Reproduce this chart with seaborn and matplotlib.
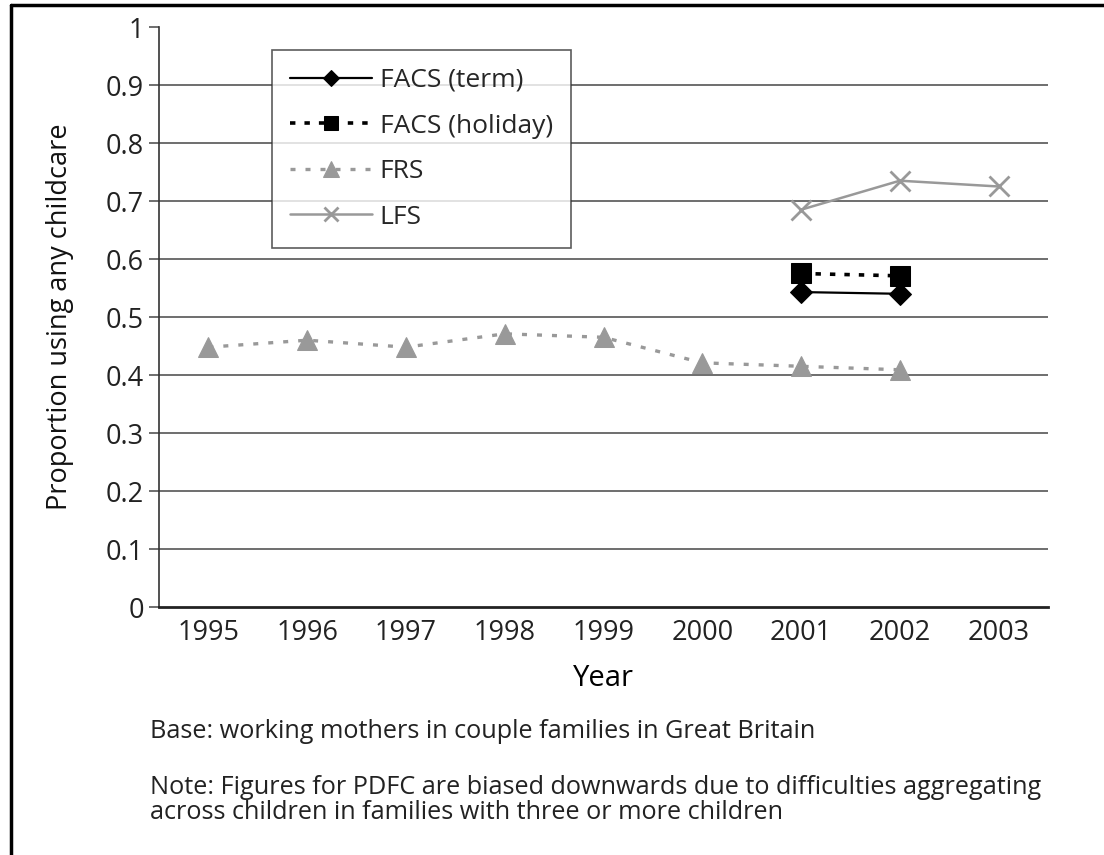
import matplotlib
matplotlib.use("Agg")
import matplotlib.pyplot as plt
import seaborn as sns
import pandas as pd
from matplotlib.lines import Line2D

# ---- data ----
years = [1995, 1996, 1997, 1998, 1999, 2000, 2001, 2002, 2003]
facs_term_years = [2001, 2002]
facs_term = [0.543, 0.540]
facs_holiday_years = [2001, 2002]
facs_holiday = [0.575, 0.571]
frs_years = [1995, 1996, 1997, 1998, 1999, 2000, 2001, 2002]
frs = [0.448, 0.460, 0.448, 0.471, 0.465, 0.421, 0.415, 0.409]
lfs_years = [2001, 2002, 2003]
lfs = [0.685, 0.735, 0.725]
y_ticks = [0, 0.1, 0.2, 0.3, 0.4, 0.5, 0.6, 0.7, 0.8, 0.9, 1]
y_tick_labels = ["0", "0.1", "0.2", "0.3", "0.4", "0.5", "0.6", "0.7", "0.8", "0.9", "1"]

sns.set_style("white")
plt.rcParams['font.family'] = ['Open Sans', 'DejaVu Sans']
FS = 19.5
FS_LEG = 19
FS_NOTE = 18.2

fig = plt.figure(figsize=(11.04, 8.55), dpi=100)
ax = fig.add_axes([159/1104, 1 - 607/855, (1048-159)/1104, (607-27)/855])

series = [
    ("FACS (term)", facs_term_years, facs_term, dict(color="black", marker="D", linestyle="-", markersize=11, lw=1.6)),
    ("FACS (holiday)", facs_holiday_years, facs_holiday, dict(color="black", marker="s", linestyle=(0, (1.5, 2.5)), markersize=14, lw=2.6)),
    ("FRS", frs_years, frs, dict(color="#999999", marker="^", linestyle=(0, (1.5, 3)), markersize=15, lw=2.4)),
    ("LFS", lfs_years, lfs, dict(color="#999999", marker="x", linestyle="-", markersize=14, lw=1.8, markeredgewidth=2)),
]
for name, xs, ys, st in series:
    df = pd.DataFrame({"Year": xs, "v": ys})
    sns.lineplot(data=df, x="Year", y="v", ax=ax, label=name, markeredgecolor=st["color"], **st)

ax.set_xlim(1994.5, 2003.5)
ax.set_ylim(0, 1)
ax.set_yticks(y_ticks)
ax.set_yticklabels(y_tick_labels, fontsize=FS, color="#222222")
ax.set_xticks([y + 0.5 for y in [1994] + years])
ax.set_xticklabels([])
ax.set_xticks(years, minor=True)
ax.set_xticklabels([str(y) for y in years], minor=True, fontsize=FS, color="#222222")
ax.tick_params(axis="x", which="major", direction="out", length=7, width=1.2, color="#333333")
ax.tick_params(axis="x", which="minor", length=0, pad=9)
ax.tick_params(axis="y", direction="out", length=7, width=1.2, color="#555555", pad=4, left=True)

for t in y_ticks[1:-1]:
    ax.axhline(t, color="#555555", lw=1.2, zorder=0)

for s in ["top", "right"]:
    ax.spines[s].set_visible(False)
ax.spines["left"].set_color("#333333")
ax.spines["left"].set_linewidth(1.2)
ax.spines["bottom"].set_color("#222222")
ax.spines["bottom"].set_linewidth(2)

ax.set_xlabel("")
ax.set_ylabel("")

leg = ax.legend(loc="upper left", bbox_to_anchor=((272-159)/889, (607-50)/580),
                borderaxespad=0, frameon=True, fancybox=False, fontsize=FS_LEG,
                handlelength=3.1, handletextpad=0.3, labelspacing=0.78,
                borderpad=0.68, edgecolor="#333333", markerscale=0.75)
leg.get_frame().set_linewidth(1.2)

fig.text(603/1104, 1 - 678/855, "Year", ha="center", va="center", fontsize=21, color="black")
fig.text(60/1104, 1 - 317/855, "Proportion using any childcare", ha="center", va="center",
         rotation=90, fontsize=FS, color="#111111")
fig.text(150/1104, 1 - 731/855, "Base: working mothers in couple families in Great Britain",
         ha="left", va="center", fontsize=FS_NOTE, color="#222222")
fig.text(150/1104, 1 - 800/855,
         "Note: Figures for PDFC are biased downwards due to difficulties aggregating\n"
         "across children in families with three or more children",
         ha="left", va="center", fontsize=FS_NOTE, color="#222222", linespacing=1.05)

# outer frame (left and top edges)
fig.add_artist(Line2D([11/1104, 11/1104], [0, 1 - 5/855], transform=fig.transFigure, color="black", lw=2.5))
fig.add_artist(Line2D([11/1104, 1], [1 - 5/855, 1 - 5/855], transform=fig.transFigure, color="black", lw=2.5))

fig.savefig("out.png", dpi=100)
